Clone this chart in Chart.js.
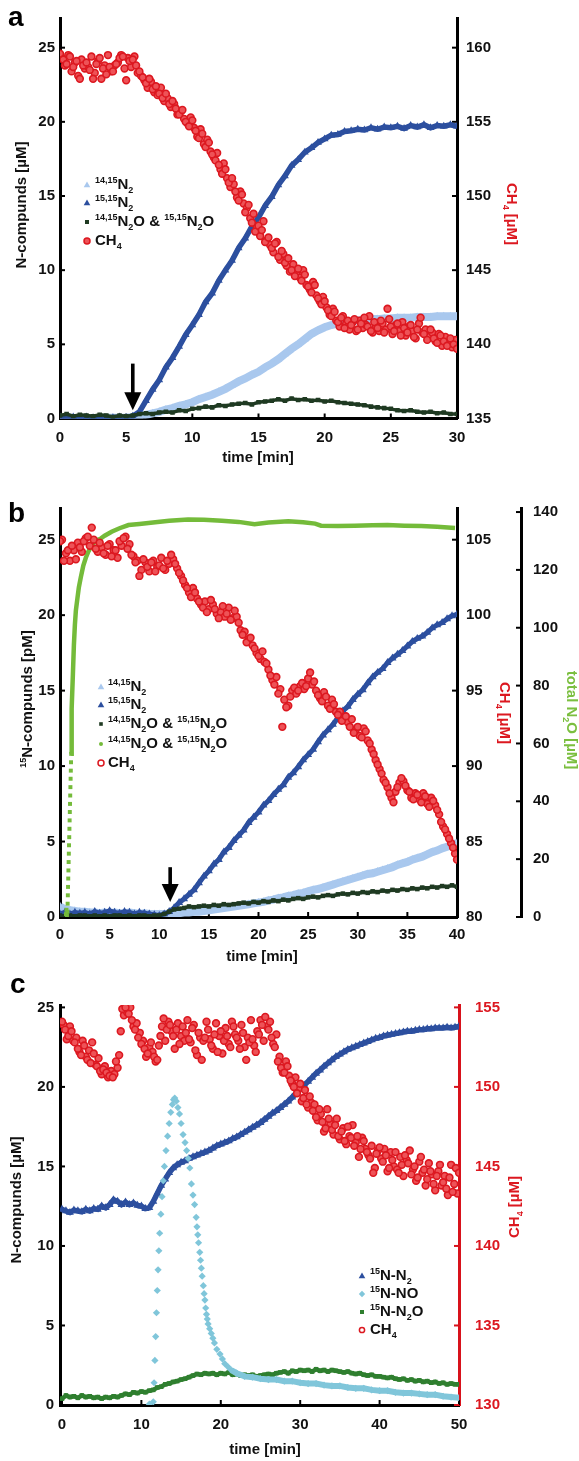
<!DOCTYPE html>
<html lang="en">
<head>
<meta charset="UTF-8" />
<title>N-compounds and CH4 time courses</title>
<script src="https://cdn.jsdelivr.net/npm/chart.js"></script>
<style>
  body { margin: 0; background: #fff; }
  .panel { position: absolute; left: 0; width: 579px; }
</style>
</head>
<body>

<div class="panel" style="top:0px;"><canvas id="chartA" width="579" height="480"></canvas></div>
<div class="panel" style="top:480px;"><canvas id="chartB" width="579" height="490"></canvas></div>
<div class="panel" style="top:970px;"><canvas id="chartC" width="579" height="491"></canvas></div>

<script>
// ---------- panel a data ----------
const tA = [0,0.5,1,1.5,2,2.5,3,3.5,4,4.5,
  5,5.5,6,6.5,7,7.5,8,8.5,9,9.5,
  10,10.5,11,11.5,12,12.5,13,13.5,14,14.5,
  15,15.5,16,16.5,17,17.5,18,18.5,19,19.5,
  20,20.5,21,21.5,22,22.5,23,23.5,24,24.5,
  25,25.5,26,26.5,27,27.5,28,28.5,29,29.5,
  30];
const aN2_15 = [0.1,0.05,0.1,0,0.1,0.05,0.1,0,0.05,0.1,
  0.05,0.15,0.45,1.2,1.95,2.6,3.45,4.1,4.85,5.65,
  6.3,7.0,7.85,8.45,9.3,10.0,10.65,11.5,12.15,12.95,
  13.55,14.35,14.95,15.75,16.35,17.05,17.45,17.95,18.25,18.6,
  18.85,19.1,19.15,19.35,19.4,19.5,19.45,19.6,19.5,19.65,
  19.6,19.7,19.55,19.75,19.65,19.8,19.6,19.75,19.7,19.8,
  19.7];
const aN2_14 = [0.05,0.05,0,0.05,0.05,0,0.05,0.05,0.05,0.05,
  0.05,0.1,0.15,0.25,0.35,0.45,0.6,0.7,0.85,0.95,
  1.1,1.3,1.45,1.6,1.8,2.0,2.25,2.5,2.7,2.95,
  3.15,3.45,3.7,4.0,4.35,4.7,5.0,5.35,5.7,5.95,
  6.15,6.3,6.4,6.5,6.55,6.6,6.65,6.7,6.7,6.75,
  6.75,6.8,6.8,6.8,6.85,6.85,6.85,6.9,6.9,6.9,
  6.9];
const aN2O = [0.2,0.3,0.15,0.25,0.2,0.15,0.25,0.2,0.1,0.2,
  0.15,0.2,0.3,0.35,0.3,0.4,0.45,0.4,0.55,0.5,
  0.65,0.7,0.8,0.75,0.9,0.85,0.95,1.0,1.05,0.95,
  1.1,1.15,1.2,1.3,1.2,1.35,1.25,1.3,1.2,1.25,
  1.15,1.2,1.1,1.05,1.0,0.95,0.9,0.8,0.75,0.7,
  0.65,0.55,0.5,0.55,0.45,0.4,0.45,0.35,0.4,0.3,
  0.3];
const tRa = [0,0.25,0.5,0.75,1,1.25,1.5,1.75,
  2,2.25,2.5,2.75,3,3.25,3.5,3.75,
  4,4.25,4.5,4.75,5,5.25,5.5,5.75,
  6,6.25,6.5,6.75,7,7.25,7.5,7.75,
  8,8.25,8.5,8.75,9,9.25,9.5,9.75,
  10,10.25,10.5,10.75,11,11.25,11.5,11.75,
  12,12.25,12.5,12.75,13,13.25,13.5,13.75,
  14,14.25,14.5,14.75,15,15.25,15.5,15.75,
  16,16.25,16.5,16.75,17,17.25,17.5,17.75,
  18,18.25,18.5,18.75,19,19.25,19.5,19.75,
  20,20.25,20.5,20.75,21,21.25,21.5,21.75,
  22,22.25,22.5,22.75,23,23.25,23.5,23.75,
  24,24.25,24.5,24.75,25,25.25,25.5,25.75,
  26,26.25,26.5,26.75,27,27.25,27.5,27.75,
  28,28.25,28.5,28.75,29,29.25,29.5,29.75,
  30];
const aCH4 = [159.6,159.2,158.9,159.4,158.7,159.1,157.9,158.8,
  159.0,158.5,157.9,158.9,159.3,158.6,158.2,158.7,
  158.4,158.9,159.3,159.4,157.8,159.1,159.2,158.8,
  158.4,158.0,157.6,157.9,157.2,157.4,156.9,156.6,
  156.9,156.2,156.4,155.9,155.5,155.8,155.0,154.7,
  155.1,154.4,153.9,154.2,153.3,153.6,152.8,152.4,
  152.1,151.5,151.8,150.9,151.2,150.3,149.7,150.1,
  148.9,149.4,148.2,147.6,148.0,147.7,146.9,147.2,
  146.5,146.8,145.9,146.3,145.5,145.8,145.0,144.6,
  145.1,144.3,144.7,143.9,143.5,144.0,143.1,142.7,
  142.9,142.3,141.9,142.2,141.5,141.8,141.1,141.6,
  141.3,141.7,141.0,141.4,141.8,141.2,140.9,141.5,
  141.1,141.6,140.8,142.4,141.2,140.9,141.4,140.6,
  141.1,140.8,141.3,140.5,141.0,141.8,140.7,140.3,
  141.0,140.4,140.1,140.6,140.2,139.9,140.4,140.0,
  139.7];
// in-between CH4 readings for panel a
const tRa2 = [0.125,0.375,0.625,0.875,1.125,1.375,1.625,1.875,
  2.125,2.375,2.625,2.875,3.125,3.375,3.625,3.875,
  4.125,4.375,4.625,4.875,5.125,5.375,5.625,5.875,
  6.125,6.375,6.625,6.875,7.125,7.375,7.625,7.875,
  8.125,8.375,8.625,8.875,9.125,9.375,9.625,9.875,
  10.125,10.375,10.625,10.875,11.125,11.375,11.625,11.875,
  12.125,12.375,12.625,12.875,13.125,13.375,13.625,13.875,
  14.125,14.375,14.625,14.875,15.125,15.375,15.625,15.875,
  16.125,16.375,16.625,16.875,17.125,17.375,17.625,17.875,
  18.125,18.375,18.625,18.875,19.125,19.375,19.625,19.875,
  20.125,20.375,20.625,20.875,21.125,21.375,21.625,21.875,
  22.125,22.375,22.625,22.875,23.125,23.375,23.625,23.875,
  24.125,24.375,24.625,24.875,25.125,25.375,25.625,25.875,
  26.125,26.375,26.625,26.875,27.125,27.375,27.625,27.875,
  28.125,28.375,28.625,28.875,29.125,29.375,29.625,29.875];
const aCH4b = [159.3,158.8,159.5,158.4,159.0,158.1,159.2,158.6,
  158.7,159.4,158.3,159.1,157.9,158.8,159.5,158.4,
  158.8,159.0,159.5,158.6,159.3,158.7,159.4,158.3,
  158.1,157.8,157.3,157.7,157.0,156.8,157.3,156.4,
  156.6,156.0,156.2,155.5,155.7,155.2,154.9,155.3,
  154.6,154.0,154.5,153.5,153.8,153.0,152.6,152.9,
  151.8,152.2,151.2,150.6,150.8,149.9,150.3,149.5,
  149.2,148.5,148.8,147.9,147.3,148.3,147.0,146.7,
  146.2,146.9,145.7,146.1,145.3,144.9,145.4,144.8,
  144.5,145.0,144.0,143.7,144.2,143.3,142.9,143.2,
  142.5,142.0,142.4,141.6,141.2,141.9,141.4,141.0,
  141.5,140.9,141.6,141.1,141.3,141.9,140.8,141.2,
  140.9,141.4,141.0,141.7,140.7,141.3,140.9,141.5,
  140.6,141.2,140.9,140.4,141.4,140.8,141.0,140.5,
  140.8,140.2,140.7,139.9,140.5,140.1,139.8,140.3];
const xTicksA = [0,5,10,15,20,25,30];
const yTicksA = [0,5,10,15,20,25];
const y2TicksA = [135,140,145,150,155,160];

// ---------- panel b data ----------
const tB = [0,0.5,1,1.5,2,2.5,3,3.5,4,4.5,
  5,5.5,6,6.5,7,7.5,8,8.5,9,9.5,
  10,10.5,11,11.5,12,12.5,13,13.5,14,14.5,
  15,15.5,16,16.5,17,17.5,18,18.5,19,19.5,
  20,20.5,21,21.5,22,22.5,23,23.5,24,24.5,
  25,25.5,26,26.5,27,27.5,28,28.5,29,29.5,
  30,30.5,31,31.5,32,32.5,33,33.5,34,34.5,
  35,35.5,36,36.5,37,37.5,38,38.5,39,39.5,
  40];
const bN2_15 = [0.2,0.3,0.2,0.3,0.25,0.3,0.2,0.35,0.25,0.3,
  0.4,0.3,0.25,0.35,0.3,0.2,0.3,0.25,0.2,0.15,
  0.1,0.2,0.35,0.6,0.95,1.2,1.5,1.8,2.25,2.7,
  3.05,3.5,3.8,4.3,4.6,5.05,5.4,5.75,6.25,6.6,
  6.95,7.4,7.7,8.1,8.45,8.75,9.25,9.55,9.95,10.4,
  10.75,11.1,11.6,12.05,12.4,12.75,13.2,13.65,13.95,14.4,
  14.75,15.05,15.5,15.9,16.2,16.45,16.85,17.15,17.4,17.65,
  17.95,18.25,18.45,18.6,18.85,19.15,19.35,19.5,19.75,19.95,
  20.05];
const bN2_14 = [0.7,0.5,0.45,0.4,0.35,0.35,0.3,0.3,0.25,0.3,
  0.25,0.3,0.25,0.25,0.3,0.25,0.2,0.25,0.2,0.2,
  0.2,0.2,0.2,0.25,0.25,0.3,0.3,0.35,0.35,0.4,
  0.45,0.5,0.55,0.6,0.65,0.7,0.75,0.8,0.85,0.9,
  0.95,1.0,1.1,1.15,1.25,1.3,1.4,1.45,1.55,1.6,
  1.7,1.8,1.85,1.95,2.05,2.15,2.25,2.35,2.45,2.55,
  2.65,2.75,2.85,2.9,3.0,3.1,3.2,3.3,3.45,3.55,
  3.65,3.8,3.9,4.0,4.15,4.3,4.4,4.55,4.65,4.8,
  4.9];
const bN2O = [0.1,0.05,0.1,0.05,0.1,0.1,0.05,0.1,0.05,0.1,
  0.05,0.1,0.1,0.05,0.1,0.05,0.1,0.1,0.05,0.1,
  0.1,0.2,0.35,0.5,0.55,0.6,0.7,0.65,0.7,0.75,
  0.7,0.8,0.75,0.85,0.8,0.85,0.9,0.95,0.9,1.0,
  0.95,1.05,1.0,1.1,1.05,1.15,1.1,1.2,1.25,1.2,
  1.3,1.35,1.3,1.4,1.45,1.4,1.5,1.55,1.5,1.6,
  1.55,1.65,1.6,1.7,1.65,1.75,1.7,1.8,1.75,1.85,
  1.8,1.9,1.85,1.95,1.9,2.0,1.95,2.05,2.0,2.1,
  2.0];
const tTotB = [0.6,0.65,0.7,0.75,0.77,0.79,0.81,0.83,0.85,0.87,0.89,0.91,0.93,0.95,0.97,0.99,1.01,1.03,1.05,1.07,1.09,1.11,1.13,
  1.15,1.2,1.3,1.4,1.5,1.6,1.75,1.9,2.1,2.35,2.6,2.85,3.2,3.6,4,4.5,5.2,6,6.9,8,
  9.6,11,12.9,14.5,16.3,18,19.6,21,23,24.5,25.7,26.3,28,29.7,31.5,33,34.7,36.4,38,39.8];
const bTotN2O = [1.0,2.5,0.5,1.8,4.6,7.5,10.4,13.3,16.1,19.0,21.9,24.8,27.6,30.5,33.4,36.3,39.1,42.0,44.9,47.8,50.6,53.5,56.4,
  62,72,84,94,101,106,110,114,117.5,121.5,124.2,126.3,128.5,130.2,130.6,131.8,133.2,134.4,135.5,135.9,
  136.5,137,137.4,137.3,137,136.6,135.8,136.4,136.8,136.5,136,135.3,135.2,135.3,135.4,135.5,135.3,135.2,134.9,134.5];
const tRb = [0,0.4,0.8,1.2,1.6,2,2.4,2.8,3.2,3.6,
  4,4.4,4.8,5.2,5.6,6,6.4,6.8,7.2,7.6,
  8,8.4,8.8,9.2,9.6,10,10.4,10.8,11.2,11.6,
  12,12.4,12.8,13.2,13.6,14,14.4,14.8,15.2,15.6,
  16,16.4,16.8,17.2,17.6,18,18.4,18.8,19.2,19.6,
  20,20.4,20.8,21.2,21.6,22,22.4,22.8,23.2,23.6,
  24,24.4,24.8,25.2,25.6,26,26.4,26.8,27.2,27.6,
  28,28.4,28.8,29.2,29.6,30,30.4,30.8,31.2,31.6,
  32,32.4,32.8,33.2,33.6,34,34.4,34.8,35.2,35.6,
  36,36.4,36.8,37.2,37.6,38,38.4,38.8,39.2,39.6,
  40];
const bCH4 = [104.9,103.6,104.3,104.6,103.7,104.5,104.9,105.2,105.8,104.4,
  104.8,104.1,104.6,103.9,104.3,104.9,105.1,104.4,104.0,103.5,
  102.6,103.7,103.2,103.5,102.9,103.3,103.1,103.6,104.0,103.4,
  102.8,102.3,101.8,101.2,101.5,100.9,100.5,100.2,101.0,100.4,
  99.8,100.6,100.1,99.7,100.3,99.5,98.7,98.2,98.5,97.8,
  97.3,97.6,96.8,96.0,95.4,94.8,92.6,93.9,94.6,95.2,
  95.0,95.5,95.3,96.2,95.6,94.7,94.3,94.6,93.8,94.1,
  93.4,93.0,93.3,92.6,92.2,92.6,91.9,92.3,91.5,90.8,
  90.1,89.5,88.9,88.2,87.6,88.6,89.2,88.7,88.3,87.8,
  88.1,87.6,88.0,87.3,87.7,87.1,86.3,85.8,85.2,84.6,
  83.8];
// in-between CH4 readings for panel b
const tRb2 = [0.2,0.6,1,1.4,1.8,2.2,2.6,3,3.4,3.8,
  4.2,4.6,5,5.4,5.8,6.2,6.6,7,7.4,7.8,
  8.2,8.6,9,9.4,9.8,10.2,10.6,11,11.4,11.8,
  12.2,12.6,13,13.4,13.8,14.2,14.6,15,15.4,15.8,
  16.2,16.6,17,17.4,17.8,18.2,18.6,19,19.4,19.8,
  20.2,20.6,21,21.4,21.8,22.2,22.6,23,23.4,23.8,
  24.2,24.6,25,25.4,25.8,26.2,26.6,27,27.4,27.8,
  28.2,28.6,29,29.4,29.8,30.2,30.6,31,31.4,31.8,
  32.2,32.6,33,33.4,33.8,34.2,34.6,35,35.4,35.8,
  36.2,36.6,37,37.4,37.8,38.2,38.6,39,39.4,39.8];
const bCH4b = [105.0,104.1,103.6,104.3,104.8,104.2,105.1,104.6,105.0,104.2,
  104.5,104.0,104.7,104.3,103.8,104.6,105.2,104.7,103.9,103.6,
  103.0,103.5,102.9,103.6,103.2,103.8,103.0,103.4,103.7,103.1,
  102.6,102.0,101.5,101.8,101.1,100.7,100.9,100.4,100.7,100.1,
  100.2,99.9,100.5,99.8,99.9,99.0,98.9,98.4,98.0,97.5,
  97.1,96.9,96.4,95.7,95.9,95.1,94.4,94.0,95.0,94.8,
  95.3,95.1,95.8,95.4,95.0,94.5,94.9,94.0,94.4,93.6,
  93.6,93.2,92.9,93.1,92.4,92.0,92.5,91.7,91.1,90.4,
  89.8,89.1,88.6,87.9,88.3,88.9,89.0,88.4,87.9,88.2,
  87.8,88.2,87.5,87.9,87.4,86.8,86.0,85.5,84.9,84.2];
const xTicksB = [0,5,10,15,20,25,30,35,40];
const yTicksB = [0,5,10,15,20,25];
const y2TicksB = [80,85,90,95,100,105];
const y3TicksB = [0,20,40,60,80,100,120,140];

// ---------- panel c data ----------
const tC = [0,0.5,1,1.5,2,2.5,3,3.5,4,4.5,
  5,5.5,6,6.5,7,7.5,8,8.5,9,9.5,
  10,10.5,11,11.5,12,12.5,13,13.5,14,14.5,
  15,15.5,16,16.5,17,17.5,18,18.5,19,19.5,
  20,20.5,21,21.5,22,22.5,23,23.5,24,24.5,
  25,25.5,26,26.5,27,27.5,28,28.5,29,29.5,
  30,30.5,31,31.5,32,32.5,33,33.5,34,34.5,
  35,35.5,36,36.5,37,37.5,38,38.5,39,39.5,
  40,40.5,41,41.5,42,42.5,43,43.5,44,44.5,
  45,45.5,46,46.5,47,47.5,48,48.5,49,49.5,
  50];
const cN2 = [12.3,12.2,12.1,12.25,12.2,12.15,12.3,12.2,12.35,12.3,
  12.5,12.4,12.6,12.9,12.8,12.6,12.75,12.6,12.7,12.55,
  12.5,12.35,12.4,12.8,13.3,13.8,14.2,14.6,14.9,15.1,
  15.25,15.35,15.5,15.6,15.7,15.8,15.9,16.0,16.15,16.3,
  16.4,16.5,16.6,16.75,16.85,17.0,17.15,17.3,17.45,17.6,
  17.75,17.95,18.15,18.35,18.5,18.7,18.9,19.1,19.35,19.6,
  19.85,20.1,20.35,20.6,20.85,21.05,21.3,21.5,21.7,21.9,
  22.05,22.2,22.35,22.45,22.55,22.65,22.75,22.85,22.95,23.05,
  23.1,23.2,23.25,23.3,23.35,23.4,23.45,23.5,23.5,23.55,
  23.6,23.6,23.65,23.65,23.7,23.7,23.7,23.75,23.7,23.75,
  23.8];
const cN2O = [0.4,0.6,0.5,0.55,0.45,0.6,0.5,0.55,0.45,0.5,
  0.4,0.5,0.45,0.55,0.5,0.6,0.7,0.65,0.8,0.75,
  0.85,0.8,0.9,0.95,1.1,1.15,1.3,1.35,1.45,1.5,
  1.6,1.65,1.75,1.85,1.95,1.9,2.0,1.95,2.0,1.9,
  2.0,1.95,2.05,1.9,1.95,1.85,1.9,1.85,1.9,1.8,
  1.85,1.9,1.95,1.9,2.0,2.05,2.1,2.0,2.15,2.1,
  2.2,2.15,2.2,2.1,2.25,2.15,2.2,2.1,2.2,2.15,
  2.1,2.05,2.1,2.0,1.95,2.0,1.9,1.85,1.9,1.8,
  1.8,1.75,1.7,1.75,1.65,1.6,1.65,1.55,1.6,1.5,
  1.55,1.45,1.5,1.4,1.45,1.35,1.4,1.3,1.35,1.3,
  1.3];
const tNO = [11,
  11.5,11.6,11.7,11.8,11.9,12.0,12.1,12.2,12.3,12.45,12.6,12.75,12.9,13.1,13.3,13.5,13.7,13.9,14.05,
  14.2,14.4,14.6,14.8,15.0,15.25,15.5,15.7,15.9,16.1,
  16.3,16.5,16.7,16.9,17.0,17.1,17.2,17.35,17.45,17.55,
  17.65,17.8,17.9,18.0,18.1,18.2,18.3,18.4,18.6,18.8,
  19.0,19.2,19.5,19.9,20.2,20.5,20.9,21.3,
  22,23,24,25,26,27,28,29,30,31,
  32,33,34,35,36,37,38,39,40,41,
  42,43,44,45,46,47,48,49,50];
const cNO = [0.05,
  0.2,1.4,2.8,4.3,5.8,7.2,8.5,9.7,10.8,12.0,13.1,14.1,15.0,16.0,16.9,17.7,18.4,18.9,19.2,
  19.3,19.1,18.7,18.3,17.7,17.0,16.5,16.0,15.5,14.9,
  13.9,13.2,12.6,11.8,11.2,10.7,10.2,9.6,9.1,8.6,
  8.1,7.5,7.0,6.6,6.1,5.7,5.4,5.1,4.8,4.5,
  4.2,3.9,3.5,3.2,2.9,2.6,2.4,2.2,
  2.0,1.8,1.75,1.65,1.6,1.6,1.5,1.5,1.4,1.35,
  1.35,1.25,1.2,1.2,1.1,1.05,1.05,0.95,0.9,0.9,
  0.8,0.75,0.75,0.7,0.65,0.65,0.55,0.5,0.45];
const tRc = [0,0.4,0.8,1.2,1.6,2,2.4,2.8,3.2,3.6,
  4,4.4,4.8,5.2,5.6,6,6.4,6.8,7.2,7.6,
  8,8.4,8.8,9.2,9.6,10,10.4,10.8,11.2,11.6,
  12,12.4,12.8,13.2,13.6,14,14.4,14.8,15.2,15.6,
  16,16.4,16.8,17.2,17.6,18,18.4,18.8,19.2,19.6,
  20,20.4,20.8,21.2,21.6,22,22.4,22.8,23.2,23.6,
  24,24.4,24.8,25.2,25.6,26,26.4,26.8,27.2,27.6,
  28,28.4,28.8,29.2,29.6,30,30.4,30.8,31.2,31.6,
  32,32.4,32.8,33.2,33.6,34,34.4,34.8,35.2,35.6,
  36,36.4,36.8,37.2,37.6,38,38.4,38.8,39.2,39.6,
  40,40.4,40.8,41.2,41.6,42,42.4,42.8,43.2,43.6,
  44,44.4,44.8,45.2,45.6,46,46.4,46.8,47.2,47.6,
  48,48.4,48.8,49.2,49.6,50];
const cCH4 = [154.1,153.6,153.2,153.5,152.8,152.4,152.0,152.6,151.7,151.5,
  152.1,151.3,151.0,151.1,150.9,150.7,150.6,151.6,152.0,154.9,
  155.0,154.6,154.2,153.6,153.1,152.7,152.4,152.1,152.8,151.9,
  151.7,153.2,154.3,153.6,153.9,153.2,153.6,152.7,153.8,153.4,
  153.0,153.7,152.3,153.4,151.7,153.1,153.6,152.6,153.3,152.2,
  153.5,152.9,153.2,152.5,153.8,153.1,152.4,153.4,151.7,152.8,
  153.0,152.2,153.3,153.9,154.4,153.6,153.1,152.5,151.6,151.2,
  150.9,151.3,150.4,150.0,149.6,150.2,149.3,148.9,149.4,148.5,
  148.1,148.6,147.8,147.4,148.0,147.3,147.6,146.9,147.2,146.6,
  147.5,146.8,146.3,146.9,146.1,146.6,145.9,145.5,144.6,145.8,
  146.2,145.3,145.7,144.9,145.4,145.9,144.6,145.1,145.7,145.2,
  144.5,145.0,144.3,145.6,144.8,144.2,144.7,143.9,144.4,145.1,
  144.0,143.6,144.3,143.4,144.9,144.6];
// in-between CH4 readings for panel c
const tRc2 = [0.2,0.6,1,1.4,1.8,2.2,2.6,3,3.4,3.8,
  4.2,4.6,5,5.4,5.8,6.2,6.6,7,7.4,7.8,
  8.2,8.6,9,9.4,9.8,10.2,10.6,11,11.4,11.8,
  12.2,12.6,13,13.4,13.8,14.2,14.6,15,15.4,15.8,
  16.2,16.6,17,17.4,17.8,18.2,18.6,19,19.4,19.8,
  20.2,20.6,21,21.4,21.8,22.2,22.6,23,23.4,23.8,
  24.2,24.6,25,25.4,25.8,26.2,26.6,27,27.4,27.8,
  28.2,28.6,29,29.4,29.8,30.2,30.6,31,31.4,31.8,
  32.2,32.6,33,33.4,33.8,34.2,34.6,35,35.4,35.8,
  36.2,36.6,37,37.4,37.8,38.2,38.6,39,39.4,39.8,
  40.2,40.6,41,41.4,41.8,42.2,42.6,43,43.4,43.8,
  44.2,44.6,45,45.4,45.8,46.2,46.6,47,47.4,47.8,
  48.2,48.6,49,49.4,49.8];
const cCH4b = [153.9,153.0,153.8,152.9,153.1,152.2,152.9,151.9,152.3,152.8,
  151.4,151.8,150.8,151.3,150.6,151.0,150.8,151.2,153.5,154.5,
  154.7,155.0,153.8,154.0,153.4,152.9,151.9,152.5,152.2,151.6,
  152.6,153.8,152.9,154.1,153.5,152.4,154.0,153.2,152.9,154.2,
  152.8,153.9,152.0,153.1,152.9,154.1,153.0,152.4,154.0,153.2,
  152.1,153.7,152.7,154.1,153.3,152.9,153.9,152.5,153.1,154.2,
  152.6,153.5,154.2,152.9,153.8,154.1,152.7,153.3,151.9,150.9,
  151.6,150.7,150.2,150.6,149.9,149.1,149.8,148.7,149.0,148.9,
  147.9,148.3,147.2,148.6,147.7,147.0,148.0,146.7,147.4,146.4,
  146.9,147.6,146.5,145.6,146.8,146.1,145.7,146.3,144.9,146.0,
  145.5,146.1,144.7,145.9,145.0,144.8,145.6,144.4,145.4,146.0,
  144.8,144.1,145.3,144.6,143.8,145.2,144.5,143.5,144.7,143.8,
  144.4,143.2,145.1,143.9,143.3];
const xTicksC = [0,10,20,30,40,50];
const yTicksC = [0,5,10,15,20,25];
const y2TicksC = [130,135,140,145,150,155];

// ---------- styles ----------
const FONT = "'Liberation Sans', Arial, sans-serif";
const RED = '#dc1820';
const REDFILL = '#ee5257';
const BLUE = '#2c4f9f';
const LBLUE = '#a9c8ee';
const DKGREEN = '#1f3a22';
const LGREEN = '#74bb3a';
const NOBLUE = '#80c6da';
const GREEN = '#2f7f2f';

const pts = (xs, ys) => xs.map((x, i) => ({ x: x, y: ys[i] }));

function axis(pos, min, max, ticks, size, pad, color, tickColor) {
  return {
    type: 'linear', position: pos, min: min, max: max,
    grid: { display: false, drawTicks: false },
    border: { display: true, color: color, width: 3 },
    ticks: {
      color: tickColor || '#111', padding: pad, autoSkip: false, maxRotation: 0,
      font: { family: FONT, size: 15, weight: 'bold' }
    },
    afterBuildTicks: s => { s.ticks = ticks.map(v => ({ value: v })); },
    afterFit: s => { if (pos === 'bottom') s.height = size; else s.width = size; }
  };
}

// rich text with super/subscripts, baseline middle
function drawRich(ctx, parts, x, y, size, color, align) {
  const small = Math.round(size * 0.62);
  let w = 0;
  parts.forEach(p => { ctx.font = 'bold ' + (p[1] ? small : size) + 'px ' + FONT; w += ctx.measureText(p[0]).width; });
  let cx = align === 'center' ? x - w / 2 : x;
  ctx.fillStyle = color;
  ctx.textBaseline = 'middle';
  ctx.textAlign = 'left';
  parts.forEach(p => {
    ctx.font = 'bold ' + (p[1] ? small : size) + 'px ' + FONT;
    const dy = p[1] === 'sup' ? -size * 0.32 : (p[1] === 'sub' ? size * 0.36 : 0);
    ctx.fillText(p[0], cx, y + dy);
    cx += ctx.measureText(p[0]).width;
  });
}

function marker(ctx, m, x, y) {
  ctx.save();
  ctx.fillStyle = m.fill;
  ctx.strokeStyle = m.stroke || m.fill;
  ctx.lineWidth = 1.5;
  const r = m.r;
  ctx.beginPath();
  if (m.style === 'triangle') {
    ctx.moveTo(x, y - r); ctx.lineTo(x + r * 0.95, y + r * 0.65); ctx.lineTo(x - r * 0.95, y + r * 0.65); ctx.closePath();
  } else if (m.style === 'rect') {
    ctx.rect(x - r, y - r, 2 * r, 2 * r);
  } else if (m.style === 'diamond') {
    ctx.moveTo(x, y - r); ctx.lineTo(x + r, y); ctx.lineTo(x, y + r); ctx.lineTo(x - r, y); ctx.closePath();
  } else {
    ctx.arc(x, y, r, 0, Math.PI * 2);
  }
  ctx.fill();
  if (m.stroke) ctx.stroke();
  ctx.restore();
}

// titles, legend, panel letter, arrow, inward tick marks
function decor(cfg) {
  return {
    id: 'decor',
    beforeDatasetsDraw(chart) {
      const ctx = chart.ctx;
      Object.values(chart.scales).forEach(sc => {
        ctx.save();
        ctx.strokeStyle = sc.options.border.color;
        ctx.lineWidth = 2;
        sc.ticks.forEach(t => {
          const p = sc.getPixelForValue(t.value);
          ctx.beginPath();
          if (sc.axis === 'x') { ctx.moveTo(p, sc.top); ctx.lineTo(p, sc.top - 5); }
          else if (sc.position === 'left') { ctx.moveTo(sc.right, p); ctx.lineTo(sc.right + 5, p); }
          else { ctx.moveTo(sc.left, p); ctx.lineTo(sc.left - 5, p); }
          ctx.stroke();
        });
        ctx.restore();
      });
    },
    afterDatasetsDraw(chart) {
      const ctx = chart.ctx;
      if (cfg.arrow) {
        const xs = chart.scales.x, ys = chart.scales.y;
        const ax = xs.getPixelForValue(cfg.arrow[0]);
        const top = ys.getPixelForValue(cfg.arrow[1]);
        const tip = ys.getPixelForValue(cfg.arrow[2]);
        ctx.save();
        ctx.fillStyle = '#000';
        ctx.fillRect(ax - 1.8, top, 3.6, tip - top - 16);
        ctx.beginPath();
        ctx.moveTo(ax - 8.5, tip - 18); ctx.lineTo(ax + 8.5, tip - 18); ctx.lineTo(ax, tip);
        ctx.closePath(); ctx.fill();
        ctx.restore();
      }
    },
    afterDraw(chart) {
      const ctx = chart.ctx;
      ctx.save();
      ctx.font = 'bold 28px ' + FONT;
      ctx.fillStyle = '#000';
      ctx.textBaseline = 'alphabetic';
      ctx.textAlign = 'left';
      ctx.fillText(cfg.letter[0], cfg.letter[1], cfg.letter[2]);
      cfg.titles.forEach(t => {
        ctx.save();
        ctx.translate(t.x, t.y);
        ctx.rotate(t.rot * Math.PI / 180);
        drawRich(ctx, t.parts, 0, 0, 15, t.color, 'center');
        ctx.restore();
      });
      const lg = cfg.legend;
      lg.items.forEach((it, i) => {
        marker(ctx, it, lg.mx, lg.rows[i]);
        drawRich(ctx, it.parts, lg.tx, lg.rows[i], 15, '#111', 'left');
      });
      ctx.restore();
    }
  };
}

const N2O_PAIR = [['14,15', 'sup'], ['N'], ['2', 'sub'], ['O & '], ['15,15', 'sup'], ['N'], ['2', 'sub'], ['O']];
const CH4_TXT = [['CH'], ['4', 'sub']];
const CH4_TITLE = [['CH'], ['4', 'sub'], [' [µM]']];

const redStyle = { pointStyle: 'circle', pointRadius: 3.4, pointBackgroundColor: REDFILL,
  pointBorderColor: RED, pointBorderWidth: 1.6 };

// ---------- panel a ----------
new Chart(document.getElementById('chartA'), {
  type: 'scatter',
  data: {
    datasets: [
      Object.assign({ label: 'CH4', data: pts(tRa, aCH4), yAxisID: 'y2', order: 0 }, redStyle),
      Object.assign({ label: 'CH4 (b)', data: pts(tRa2, aCH4b), yAxisID: 'y2', order: 0 }, redStyle),
      { label: '14,15N2O & 15,15N2O', data: pts(tA, aN2O), yAxisID: 'y', order: 1, showLine: true,
        borderColor: DKGREEN, borderWidth: 3.5, pointStyle: 'rect', pointRadius: 3.2,
        pointBackgroundColor: DKGREEN, pointBorderWidth: 0 },
      { label: '15,15N2', data: pts(tA, aN2_15), yAxisID: 'y', order: 2, showLine: true,
        borderColor: BLUE, borderWidth: 5.5, pointStyle: 'triangle', pointRadius: 4.5,
        pointBackgroundColor: BLUE, pointBorderWidth: 0 },
      { label: '14,15N2', data: pts(tA, aN2_14), yAxisID: 'y', order: 3, showLine: true,
        borderColor: LBLUE, borderWidth: 8, pointStyle: 'triangle', pointRadius: 4.5,
        pointBackgroundColor: LBLUE, pointBorderWidth: 0 }
    ]
  },
  options: {
    responsive: false, animation: false, events: [],
    layout: { padding: { top: 13, left: 0, right: 0, bottom: 0 } },
    plugins: { legend: { display: false }, tooltip: { enabled: false } },
    scales: {
      x: axis('bottom', 0, 30, xTicksA, 61.5, 10, '#000'),
      y: axis('left', 0, 27, yTicksA, 60, 5, '#000'),
      y2: axis('right', 135, 162, y2TicksA, 122, 9, '#000')
    }
  },
  plugins: [decor({
    letter: ['a', 8, 26],
    titles: [
      { parts: [['N-compunds [µM]']], x: 22, y: 205, rot: -90, color: '#111' },
      { parts: CH4_TITLE, x: 511, y: 214, rot: 90, color: RED },
      { parts: [['time [min]']], x: 258, y: 458, rot: 0, color: '#111' }
    ],
    legend: { mx: 87, tx: 95, rows: [185, 203, 222, 241], items: [
      { style: 'triangle', r: 3.5, fill: LBLUE, parts: [['14,15', 'sup'], ['N'], ['2', 'sub']] },
      { style: 'triangle', r: 3.5, fill: BLUE, parts: [['15,15', 'sup'], ['N'], ['2', 'sub']] },
      { style: 'rect', r: 2, fill: DKGREEN, parts: N2O_PAIR },
      { style: 'circle', r: 3, fill: REDFILL, stroke: RED, parts: CH4_TXT }
    ] },
    arrow: [5.5, 3.7, 0.55]
  })]
});

// ---------- panel b ----------
new Chart(document.getElementById('chartB'), {
  type: 'scatter',
  data: {
    datasets: [
      Object.assign({ label: 'CH4', data: pts(tRb, bCH4), yAxisID: 'y2', order: 0 }, redStyle),
      Object.assign({ label: 'CH4 (b)', data: pts(tRb2, bCH4b), yAxisID: 'y2', order: 0 }, redStyle),
      { label: 'total N2O', data: pts(tTotB, bTotN2O), yAxisID: 'y3', order: 1, showLine: true,
        borderColor: LGREEN, borderWidth: 4.5,
        segment: { borderColor: c => (c.p1DataIndex < 23 ? 'transparent' : undefined) },
        pointStyle: 'rect', pointRadius: c => (c.dataIndex < 23 ? 2.8 : 0),
        pointBackgroundColor: LGREEN, pointBorderWidth: 0 },
      { label: '14,15N2O & 15,15N2O', data: pts(tB, bN2O), yAxisID: 'y', order: 2, showLine: true,
        borderColor: DKGREEN, borderWidth: 3.5, pointStyle: 'rect', pointRadius: 3.2,
        pointBackgroundColor: DKGREEN, pointBorderWidth: 0 },
      { label: '15,15N2', data: pts(tB, bN2_15), yAxisID: 'y', order: 3, showLine: true,
        borderColor: BLUE, borderWidth: 5, pointStyle: 'triangle', pointRadius: 4.6,
        pointBackgroundColor: BLUE, pointBorderWidth: 0 },
      { label: '14,15N2', data: pts(tB, bN2_14), yAxisID: 'y', order: 4, showLine: true,
        borderColor: LBLUE, borderWidth: 8, pointStyle: 'triangle', pointRadius: 4.6,
        pointBackgroundColor: LBLUE, pointBorderWidth: 0 }
    ]
  },
  options: {
    responsive: false, animation: false, events: [],
    layout: { padding: { top: 28, left: 0, right: 0, bottom: 0 } },
    plugins: { legend: { display: false }, tooltip: { enabled: false } },
    scales: {
      x: axis('bottom', 0, 40, xTicksB, 53, 9, '#000'),
      y: axis('left', 0, 27.1, yTicksB, 60, 5, '#000'),
      y2: axis('right', 80, 107.1, y2TicksB, 64, 9, '#000'),
      y3: axis('right', 0, 141.4, y3TicksB, 58, 12, '#000')
    }
  },
  plugins: [decor({
    letter: ['b', 8, 42],
    titles: [
      { parts: [['15', 'sup'], ['N-compunds [pM]']], x: 28, y: 219, rot: -90, color: '#111' },
      { parts: CH4_TITLE, x: 504, y: 233, rot: 90, color: RED },
      { parts: [['total N'], ['2', 'sub'], ['O [µM]']], x: 571, y: 240, rot: 90, color: '#7bbf3f' },
      { parts: [['time [min]']], x: 262, y: 477, rot: 0, color: '#111' }
    ],
    legend: { mx: 101, tx: 108, rows: [207, 225, 244, 264, 283], items: [
      { style: 'triangle', r: 3.5, fill: LBLUE, parts: [['14,15', 'sup'], ['N'], ['2', 'sub']] },
      { style: 'triangle', r: 3.5, fill: BLUE, parts: [['15,15', 'sup'], ['N'], ['2', 'sub']] },
      { style: 'rect', r: 1.8, fill: DKGREEN, parts: N2O_PAIR },
      { style: 'circle', r: 2, fill: LGREEN, parts: N2O_PAIR },
      { style: 'circle', r: 3, fill: '#fff', stroke: RED, parts: CH4_TXT }
    ] },
    arrow: [11.1, 3.3, 1.0]
  })]
});

// ---------- panel c ----------
new Chart(document.getElementById('chartC'), {
  type: 'scatter',
  data: {
    datasets: [
      Object.assign({ label: 'CH4', data: pts(tRc, cCH4), yAxisID: 'y2', order: 0 }, redStyle),
      Object.assign({ label: 'CH4 (b)', data: pts(tRc2, cCH4b), yAxisID: 'y2', order: 0 }, redStyle),
      { label: '15N-NO', data: pts(tNO, cNO), yAxisID: 'y', order: 1, showLine: true,
        borderColor: NOBLUE, borderWidth: 6,
        segment: { borderColor: c => (c.p0.parsed.x >= 21 ? undefined : 'transparent') },
        pointStyle: 'rectRot', pointRadius: 3.6, pointBackgroundColor: NOBLUE, pointBorderWidth: 0 },
      { label: '15N-N2O', data: pts(tC, cN2O), yAxisID: 'y', order: 2, showLine: true,
        borderColor: GREEN, borderWidth: 4.5, pointStyle: 'rect', pointRadius: 3.2,
        pointBackgroundColor: GREEN, pointBorderWidth: 0 },
      { label: '15N-N2', data: pts(tC, cN2), yAxisID: 'y', order: 3, showLine: true,
        borderColor: BLUE, borderWidth: 5.5, pointStyle: 'triangle', pointRadius: 4.6,
        pointBackgroundColor: BLUE, pointBorderWidth: 0 }
    ]
  },
  options: {
    responsive: false, animation: false, events: [],
    layout: { padding: { top: 35, left: 0, right: 0, bottom: 0 } },
    plugins: { legend: { display: false }, tooltip: { enabled: false } },
    scales: {
      x: axis('bottom', -0.25, 50, xTicksC, 56, 11, '#000'),
      y: axis('left', 0, 25.15, yTicksC, 60, 6, '#000'),
      y2: axis('right', 130, 155.15, y2TicksC, 120, 16, '#d8121b', RED)
    }
  },
  plugins: [decor({
    letter: ['c', 10, 23],
    titles: [
      { parts: [['N-compunds [µM]']], x: 17, y: 230, rot: -90, color: '#111' },
      { parts: CH4_TITLE, x: 515, y: 237, rot: -90, color: RED },
      { parts: [['time [min]']], x: 265, y: 480, rot: 0, color: '#111' }
    ],
    legend: { mx: 362, tx: 370, rows: [306, 324, 342, 360], items: [
      { style: 'triangle', r: 3.5, fill: BLUE, parts: [['15', 'sup'], ['N-N'], ['2', 'sub']] },
      { style: 'diamond', r: 3.2, fill: NOBLUE, parts: [['15', 'sup'], ['N-NO']] },
      { style: 'rect', r: 2, fill: GREEN, parts: [['15', 'sup'], ['N-N'], ['2', 'sub'], ['O']] },
      { style: 'circle', r: 2.6, fill: '#fff', stroke: RED, parts: CH4_TXT }
    ] }
  })]
});
</script>
</body>
</html>
